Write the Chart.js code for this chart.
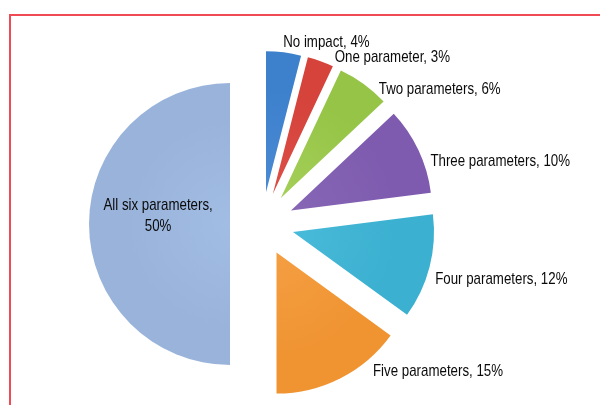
<!DOCTYPE html>
<html>
<head>
<meta charset="utf-8">
<script src="https://cdn.jsdelivr.net/npm/chart.js@4.4.0/dist/chart.umd.min.js"></script>
<style>
  html, body { margin: 0; padding: 0; background: #fff; }
  #wrap { position: relative; width: 600px; height: 405px; }
  .rule { position: absolute; background: #f04a54; }
  #ruleTop { left: 9px; top: 14px; width: 591px; height: 2px; }
  #ruleLeft { left: 9px; top: 14px; width: 2px; height: 391px; }
  canvas { position: absolute; left: 0; top: 0; }
</style>
</head>
<body>
<div id="wrap">
  <div class="rule" id="ruleTop"></div>
  <div class="rule" id="ruleLeft"></div>
  <canvas id="pie" width="600" height="405"></canvas>
</div>
<script>
// data
const categories = ['No impact', 'One parameter', 'Two parameters', 'Three parameters',
  'Four parameters', 'Five parameters', 'All six parameters'];
const shares = [4, 3, 6, 10, 12, 15, 50];

// look
const sliceColours = [
  ['#4a8ad4', '#3d80cc', '#2c64a6'],
  ['#dc4e46', '#d5433b', '#ae2e28'],
  ['#a4cf58', '#95c446', '#76a42c'],
  ['#8766b6', '#7e5bae', '#5f3f8e'],
  ['#48bada', '#3cb0d0', '#2690b0'],
  ['#f49e42', '#f09432', '#d0761c'],
  ['#a2bde4', '#99b3da', '#859fc6']
];
const pieRadius = 141;
const explode = 32;
const textStretch = 1.2;
// small hand shifts of the labels, like the original layout
const labelNudge = [[-2, 2], [10, 8], [8, 15], [1, 16], [-6, 10], [27, -17], [0, -8]];

function sliceFill(c) {
  const chart = c.chart;
  const area = chart.chartArea;
  const col = sliceColours[c.dataIndex];
  if (!area) return col[1];
  const cx = (area.left + area.right) / 2;
  const cy = (area.top + area.bottom) / 2;
  const g = chart.ctx.createRadialGradient(cx, cy, 0, cx, cy, pieRadius + explode);
  g.addColorStop(0, col[0]);
  g.addColorStop(0.6, col[1]);
  g.addColorStop(0.92, col[1]);
  g.addColorStop(1, col[2]);
  return g;
}

// push every slice out along its middle, without the shrinking chart.js 'offset' does
const explodeSlices = {
  id: 'explodeSlices',
  afterDatasetUpdate(chart) {
    chart.getDatasetMeta(0).data.forEach(arc => {
      if (arc._exploded) return;
      const base = arc.draw;
      arc.draw = function (ctx) {
        const mid = (this.startAngle + this.endAngle) / 2;
        ctx.save();
        ctx.translate(Math.cos(mid) * explode, Math.sin(mid) * explode);
        base.call(this, ctx);
        ctx.restore();
      };
      arc._exploded = true;
    });
  }
};

function stretchedText(ctx, text, x, y) {
  ctx.save();
  ctx.translate(x, y);
  ctx.scale(1, textStretch);
  ctx.fillText(text, 0, 0);
  ctx.restore();
}

const sliceLabels = {
  id: 'sliceLabels',
  afterDatasetsDraw(chart) {
    const ctx = chart.ctx;
    const meta = chart.getDatasetMeta(0);
    ctx.save();
    ctx.font = '13.3px "Liberation Sans", Arial, sans-serif';
    ctx.fillStyle = '#0a0a0a';
    ctx.textBaseline = 'middle';
    meta.data.forEach((arc, i) => {
      const mid = (arc.startAngle + arc.endAngle) / 2;
      const [dx, dy] = labelNudge[i];
      if (arc.circumference > Math.PI * 0.9) {
        const r = explode + pieRadius * 0.51;
        const x = arc.x + Math.cos(mid) * r + dx;
        const y = arc.y + Math.sin(mid) * r + dy;
        ctx.textAlign = 'center';
        stretchedText(ctx, categories[i] + ',', x, y - 10.5);
        stretchedText(ctx, shares[i] + '%', x, y + 10.5);
      } else {
        const r = explode + pieRadius + 12;
        const x = arc.x + Math.cos(mid) * r + dx;
        const y = arc.y + Math.sin(mid) * r + dy;
        ctx.textAlign = 'left';
        stretchedText(ctx, categories[i] + ', ' + shares[i] + '%', x, y);
      }
    });
    ctx.restore();
  }
};

new Chart(document.getElementById('pie'), {
  type: 'pie',
  data: {
    labels: categories,
    datasets: [{
      data: shares,
      backgroundColor: sliceFill,
      borderWidth: 0,
      clip: false
    }]
  },
  options: {
    responsive: false,
    animation: false,
    radius: pieRadius,
    layout: { padding: { left: 0, right: 76, top: 43, bottom: 0 } },
    events: [],
    plugins: {
      legend: { display: false },
      tooltip: { enabled: false }
    }
  },
  plugins: [explodeSlices, sliceLabels]
});
</script>
</body>
</html>
